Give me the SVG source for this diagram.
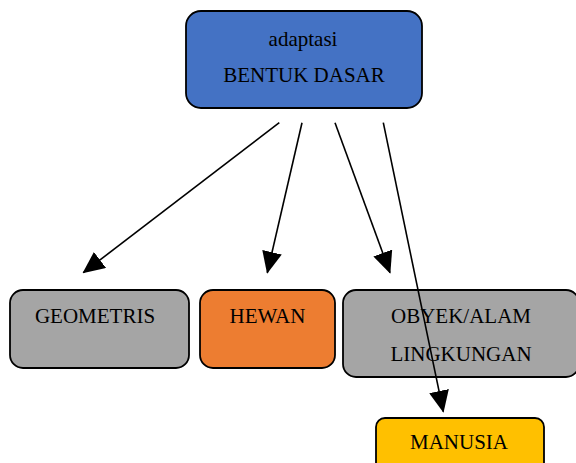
<svg xmlns="http://www.w3.org/2000/svg" width="576" height="463" viewBox="0 0 576 463">
<style>
.box{stroke:#000;stroke-width:1.8}
.t{font-family:"Liberation Serif","Times New Roman",serif;font-size:21px;fill:#000;text-anchor:middle}
.c{stroke:#000;stroke-width:1.6;fill:none;marker-end:url(#ah)}
</style>
<defs>
<marker id="ah" markerUnits="userSpaceOnUse" markerWidth="22" markerHeight="20" refX="21" refY="10" orient="auto" viewBox="0 0 22 20">
<path d="M0,0 L22,10 L0,20 z" fill="#000"/>
</marker>
</defs>
<rect width="576" height="463" fill="#fff"/>
<g id="bentuk-dasar">
<rect class="box" x="186" y="11" width="236" height="97" rx="15" fill="#4472C4"/>
<text class="t" x="303" y="46">adaptasi</text>
<text class="t" x="304" y="82">BENTUK DASAR</text>
</g>
<g id="geometris">
<rect class="box" x="10" y="290" width="179" height="78" rx="13" fill="#A5A5A5"/>
<text class="t" x="95" y="323">GEOMETRIS</text>
</g>
<g id="hewan">
<rect class="box" x="200" y="290" width="135" height="78" rx="13" fill="#ED7D31"/>
<text class="t" x="267.5" y="323">HEWAN</text>
</g>
<g id="obyek">
<rect class="box" x="343" y="290" width="236" height="87" rx="13" fill="#A5A5A5"/>
<text class="t" x="461" y="323">OBYEK/ALAM</text>
<text class="t" x="461" y="361">LINGKUNGAN</text>
</g>
<g id="manusia">
<rect class="box" x="376" y="418" width="168" height="60" rx="9" fill="#FFC000"/>
<text class="t" x="459" y="449">MANUSIA</text>
</g>
<g id="connectors">
<line class="c" x1="279.3" y1="122.7" x2="83.3" y2="272.7"/>
<line class="c" x1="302" y1="122.7" x2="267.3" y2="272.7"/>
<line class="c" x1="335" y1="122.7" x2="390" y2="272.7"/>
<line class="c" x1="383.3" y1="122.7" x2="443.3" y2="411.7"/>
</g>
</svg>
